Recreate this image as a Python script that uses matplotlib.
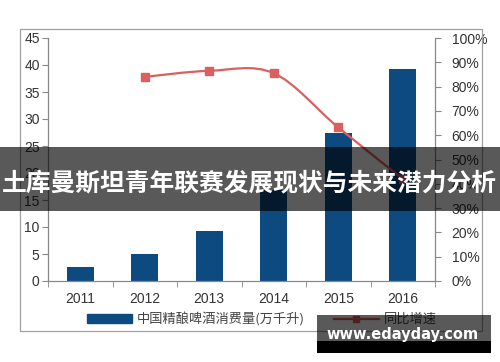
import numpy as np
import matplotlib.pyplot as plt
from matplotlib.path import Path
from matplotlib.patches import PathPatch, Rectangle
from matplotlib.lines import Line2D
from matplotlib.ticker import PercentFormatter

plt.rcParams['font.family'] = ['Liberation Sans', 'Noto Sans CJK SC', 'DejaVu Sans']

# 数据
years = ['2011', '2012', '2013', '2014', '2015', '2016']
consumption = [2.65, 4.95, 9.2, 16.8, 27.5, 39.3]      # 万千升
growth_years = [1, 2, 3, 4, 5]                           # 2012-2016 的位置
growth = [0.84, 0.865, 0.855, 0.632, 0.42]               # 同比增速

bar_color = '#0d4a80'
line_color = '#d9605e'
tick_color = '#333333'

fig = plt.figure(figsize=(5.0, 3.62), dpi=100)
W, H = 500, 362

def fig_rect(x0, y0, x1, y1):
    # 像素坐标 (左上为原点) -> figure 坐标
    return [x0 / W, 1 - y1 / H, (x1 - x0) / W, (y1 - y0) / H]

# 外框
fig.patches.append(Rectangle((20 / W, 1 - 331 / H), 462 / W, 302 / H,
                             transform=fig.transFigure, fill=False,
                             edgecolor='#a0a0a0', linewidth=0.9))

ax = fig.add_axes(fig_rect(48, 38, 435, 281))
x = np.arange(len(years))
ax.bar(x, consumption, width=0.42, color=bar_color, zorder=2)
ax.set_xlim(-0.5, len(years) - 0.5)
ax.set_ylim(0, 45)
ax.set_yticks(np.arange(0, 46, 5))
ax.set_xticks(x)
ax.set_xticklabels(years)
ax.set_xticks(np.arange(-0.5, len(years), 1), minor=True)
ax.tick_params(axis='x', which='major', length=0, pad=8, labelsize=10, colors=tick_color)
ax.tick_params(axis='x', which='minor', length=4, direction='out', color='#888888')
ax.tick_params(axis='y', length=4, direction='out', color='#888888', labelsize=10,
               labelcolor=tick_color, pad=2)
for s in ['top', 'right']:
    ax.spines[s].set_visible(False)
for s in ['left', 'bottom']:
    ax.spines[s].set_color('#888888')
    ax.spines[s].set_linewidth(0.9)

ax2 = ax.twinx()
ax2.set_ylim(0, 1)
ax2.set_yticks(np.arange(0, 1.01, 0.1))
ax2.yaxis.set_major_formatter(PercentFormatter(1.0, decimals=0))
ax2.tick_params(axis='y', length=4, direction='out', color='#888888', labelsize=10,
                labelcolor=tick_color, pad=8)
for s in ['top', 'left', 'bottom']:
    ax2.spines[s].set_visible(False)
ax2.spines['right'].set_color('#888888')
ax2.spines['right'].set_linewidth(0.9)

# 平滑曲线 (Catmull-Rom -> 三次贝塞尔)
pts = np.column_stack([growth_years, growth]).astype(float)
ext = np.vstack([pts[0], pts, pts[-1]])
verts = [tuple(pts[0])]
codes = [Path.MOVETO]
for i in range(len(pts) - 1):
    p0, p1, p2, p3 = ext[i], ext[i + 1], ext[i + 2], ext[i + 3]
    c1 = p1 + (p2 - p0) / 6
    c2 = p2 - (p3 - p1) / 6
    verts += [tuple(c1), tuple(c2), tuple(p2)]
    codes += [Path.CURVE4] * 3
ax2.add_patch(PathPatch(Path(verts, codes), fill=False, edgecolor=line_color,
                        linewidth=1.6, zorder=3))
ax2.plot(growth_years, growth, linestyle='none', marker='s', markersize=6,
         color=line_color, zorder=4)

# 图例
handles = [Rectangle((0, 0), 1, 1, color=bar_color),
           Line2D([0], [0], color=line_color, linewidth=1.6, marker='s', markersize=5)]
labels = ['中国精酿啤酒消费量(万千升)', '同比增速']
fig.legend(handles, labels, ncol=2, loc='center', bbox_to_anchor=(262 / W, 1 - 319 / H),
           frameon=False, handlelength=3.4, handleheight=0.6, columnspacing=2.2,
           handletextpad=0.4, prop={'family': ['Noto Sans CJK SC'], 'size': 9.5},
           labelcolor='#444444')

# 标题横幅
fig.patches.append(Rectangle((0, 1 - 211 / H), 1, 64 / H, transform=fig.transFigure,
                             facecolor='black', alpha=0.65, edgecolor='none', zorder=10))
fig.text(249 / W, 1 - 183 / H, '土库曼斯坦青年联赛发展现状与未来潜力分析',
         ha='center', va='center', color='white', fontsize=17.8, fontweight='bold',
         family=['Noto Sans CJK SC'], zorder=11)

# 水印
fig.patches.append(Rectangle((317 / W, 1 - 341 / H), 174 / W, 26 / H, transform=fig.transFigure,
                             facecolor='black', alpha=0.65, edgecolor='none', zorder=10))
fig.patches.append(Rectangle((317 / W, 1 - 353 / H), 174 / W, 12 / H, transform=fig.transFigure,
                             facecolor='black', edgecolor='none', zorder=10))
fig.text(403 / W, 1 - 335 / H, 'www.edayday.com', ha='center', va='center', color='white',
         fontsize=10.5, fontweight='bold', family=['DejaVu Sans'], zorder=11)

fig.savefig('out.png', dpi=100)
